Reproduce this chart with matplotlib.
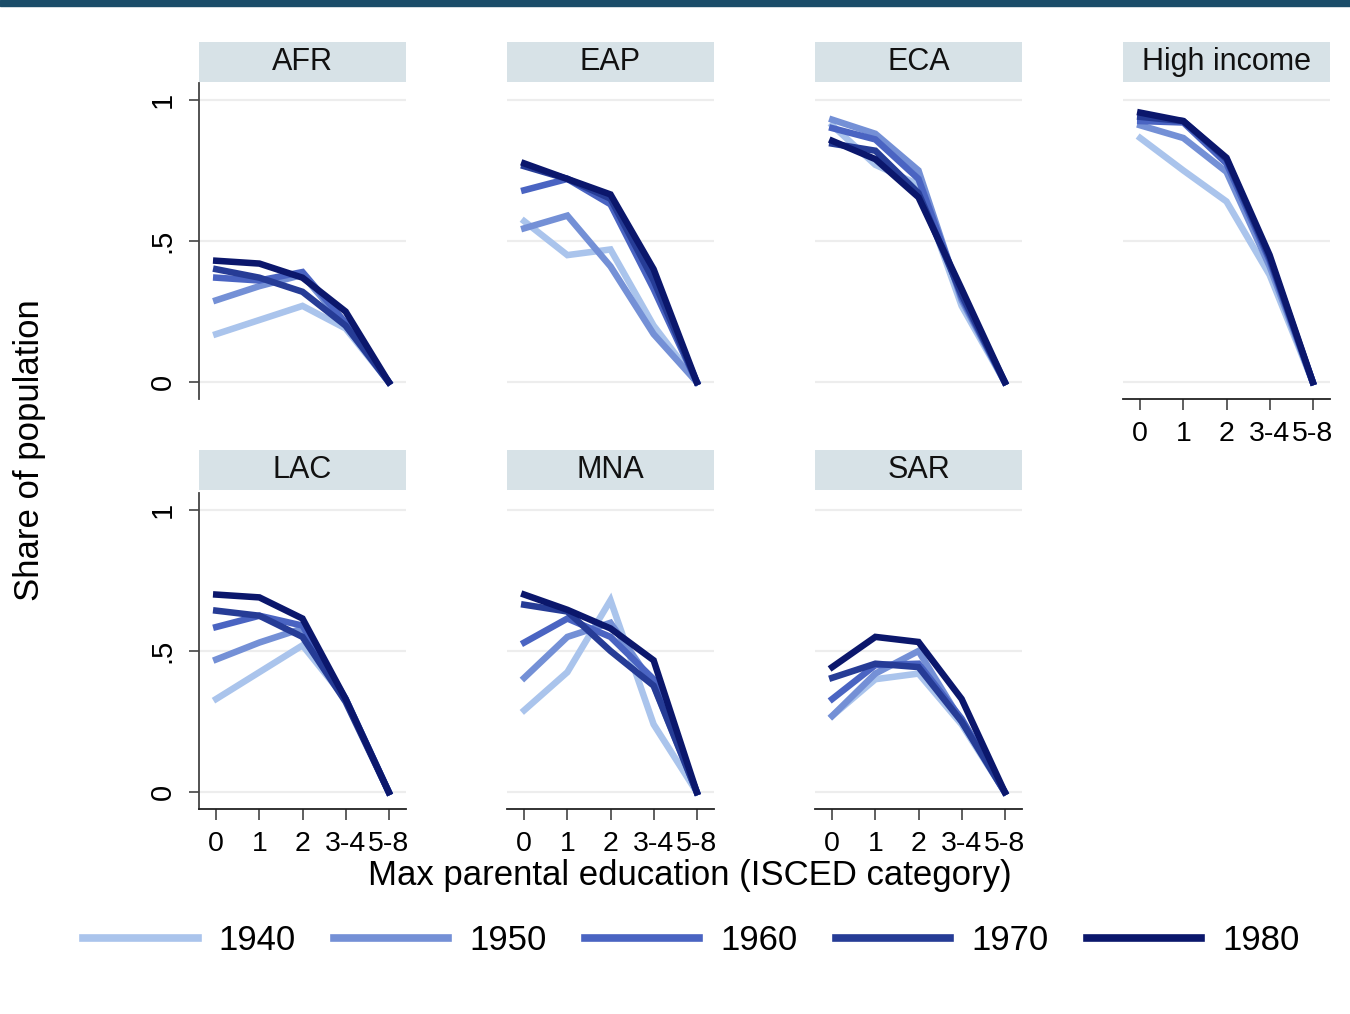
import numpy as np
import matplotlib
matplotlib.use("Agg")
from matplotlib import pyplot as plt
from matplotlib.patches import Rectangle

plt.rcParams['font.family'] = ['Liberation Sans', 'DejaVu Sans']

# categorias de educacion de los padres (ISCED)
categorias = ['0', '1', '2', '3-4', '5-8']
cohortes = ['1940', '1950', '1960', '1970', '1980']
colores = ['#aac4ec', '#7490d6', '#4a64c2', '#263c96', '#0b176c']

# proporcion de la poblacion por region, una fila por cohorte (1940..1980)
afr = [[0.17, 0.22, 0.27, 0.19, 0.0],
       [0.29, 0.34, 0.38, 0.20, 0.0],
       [0.37, 0.36, 0.39, 0.21, 0.0],
       [0.40, 0.37, 0.32, 0.20, 0.0],
       [0.43, 0.42, 0.37, 0.25, 0.0]]
eap = [[0.57, 0.45, 0.47, 0.20, 0.0],
       [0.545, 0.59, 0.41, 0.17, 0.0],
       [0.68, 0.72, 0.63, 0.33, 0.0],
       [0.765, 0.72, 0.65, 0.36, 0.0],
       [0.775, 0.72, 0.665, 0.40, 0.0]]
eca = [[0.91, 0.77, 0.70, 0.27, 0.0],
       [0.93, 0.88, 0.75, 0.29, 0.0],
       [0.90, 0.86, 0.72, 0.30, 0.0],
       [0.845, 0.82, 0.67, 0.31, 0.0],
       [0.855, 0.79, 0.655, 0.33, 0.0]]
hic = [[0.865, 0.75, 0.64, 0.38, 0.0],
       [0.91, 0.865, 0.745, 0.41, 0.0],
       [0.925, 0.92, 0.775, 0.43, 0.0],
       [0.94, 0.925, 0.79, 0.44, 0.0],
       [0.955, 0.925, 0.795, 0.45, 0.0]]
lac = [[0.33, 0.425, 0.52, 0.33, 0.0],
       [0.47, 0.53, 0.58, 0.33, 0.0],
       [0.585, 0.625, 0.59, 0.33, 0.0],
       [0.643, 0.625, 0.55, 0.32, 0.0],
       [0.70, 0.69, 0.615, 0.33, 0.0]]
mna = [[0.29, 0.425, 0.68, 0.24, 0.0],
       [0.405, 0.55, 0.60, 0.38, 0.0],
       [0.53, 0.615, 0.55, 0.40, 0.0],
       [0.664, 0.64, 0.50, 0.377, 0.0],
       [0.70, 0.646, 0.58, 0.467, 0.0]]
sar = [[0.27, 0.40, 0.42, 0.24, 0.0],
       [0.27, 0.42, 0.50, 0.25, 0.0],
       [0.33, 0.45, 0.455, 0.26, 0.0],
       [0.405, 0.455, 0.443, 0.25, 0.0],
       [0.443, 0.55, 0.532, 0.33, 0.0]]

paneles = [('AFR', afr), ('EAP', eap), ('ECA', eca), ('High income', hic),
           ('LAC', lac), ('MNA', mna), ('SAR', sar)]

W, H = 1350, 1014
fig = plt.figure(figsize=(W / 100, H / 100), dpi=100)
fig.patches.append(Rectangle((0, 1 - 6 / H), 1, 6 / H, transform=fig.transFigure,
                             color='#1b4d69', zorder=0))

izq = [199, 507, 815, 1123]
filas = [(83, 42), (493, 450)]  # (arriba del grafico, arriba de la franja)
ancho, alto, alto_franja = 207, 316, 40
x = np.arange(len(categorias))

for i, (nombre, datos) in enumerate(paneles):
    fila, col = divmod(i, 4)
    arriba, arriba_f = filas[fila]
    ax = fig.add_axes([izq[col] / W, 1 - (arriba + alto) / H, ancho / W, alto / H])
    for serie, color in zip(datos, colores):
        ax.plot(x, serie, color=color, lw=4.7, solid_joinstyle='miter', zorder=3)
    ax.set_xlim(-0.4, 4.4)
    ax.set_ylim(-0.06, 1.06)
    ax.set_yticks([0, 0.5, 1])
    ax.set_yticklabels(['0', '.5', '1'])
    ax.yaxis.grid(True, color='#ededed', lw=1.6)
    ax.set_axisbelow(True)
    for s in ['top', 'right']:
        ax.spines[s].set_visible(False)
    # solo la primera columna lleva eje y
    if col == 0:
        ax.spines['left'].set_color('#444444')
        ax.spines['left'].set_linewidth(1.3)
        ax.tick_params(axis='y', length=7, width=1.2, color='#444444', pad=9,
                       labelsize=21, labelrotation=90)
        for t in ax.get_yticklabels():
            t.set_va('center')
    else:
        ax.spines['left'].set_visible(False)
        ax.tick_params(axis='y', length=0, labelleft=False)
    # eje x solo en los paneles de abajo
    if nombre in ('High income', 'LAC', 'MNA', 'SAR'):
        ax.set_xticks(x)
        ax.set_xticklabels(categorias)
        ax.spines['bottom'].set_color('#222222')
        ax.spines['bottom'].set_linewidth(1.3)
        ax.tick_params(axis='x', length=8, width=1.2, color='#444444', pad=8,
                       labelsize=20.5)
    else:
        ax.spines['bottom'].set_visible(False)
        ax.tick_params(axis='x', length=0, labelbottom=False)

    # franja con el nombre de la region
    axf = fig.add_axes([izq[col] / W, 1 - (arriba_f + alto_franja) / H,
                        ancho / W, alto_franja / H])
    axf.set_facecolor('#d7e2e7')
    axf.set_xticks([])
    axf.set_yticks([])
    for s in axf.spines.values():
        s.set_visible(False)
    axf.text(0.5, 0.5, nombre, ha='center', va='center', fontsize=22,
             color='#111111', transform=axf.transAxes)

fig.text(30 / W, 1 - 450 / H, 'Share of population', rotation=90,
         ha='center', va='center', fontsize=25)
fig.text(690 / W, 1 - 876 / H, 'Max parental education (ISCED category)',
         ha='center', va='center', fontsize=25)

lineas = [plt.Line2D([], [], color=c, lw=5.5) for c in colores]
fig.legend(lineas, cohortes, loc='center', bbox_to_anchor=(0.512, 1 - 941 / H),
           ncol=5, frameon=False, fontsize=25, handlelength=3.3,
           handletextpad=0.6, columnspacing=1.1)

fig.savefig('out.png', dpi=100)
